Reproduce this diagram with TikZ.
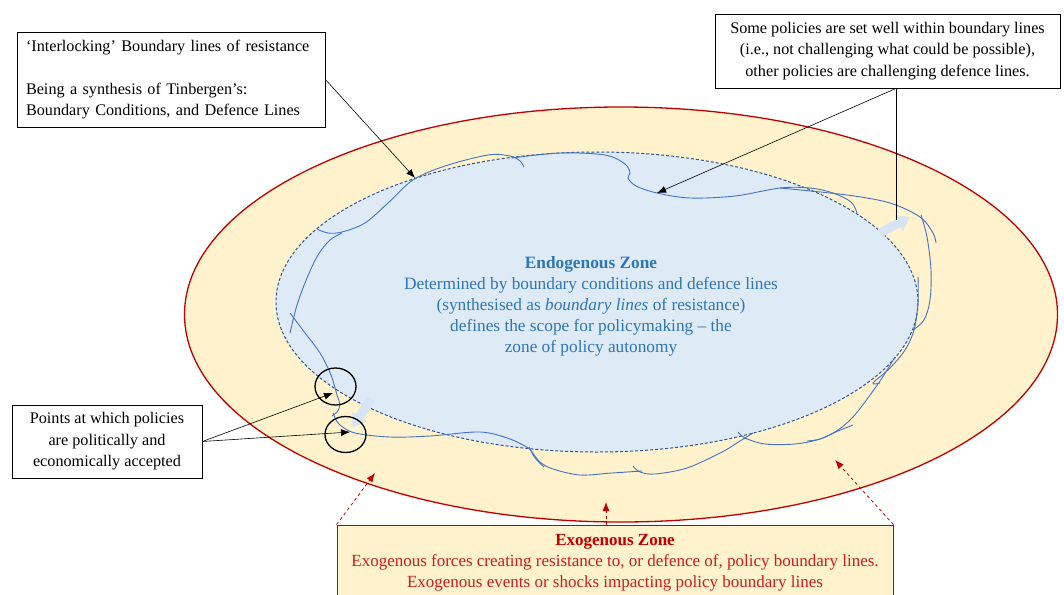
\documentclass[tikz,border=0pt]{standalone}
\usepackage{fontspec}
\setmainfont{Liberation Serif}
\usetikzlibrary{arrows.meta, shapes.geometric}

\definecolor{exofill}{HTML}{FFF2CC}
\definecolor{exored}{HTML}{C00000}
\definecolor{exotext}{HTML}{C81E1E}
\definecolor{endofill}{HTML}{DEEBF7}
\definecolor{endoedge}{HTML}{2F5597}
\definecolor{endotext}{HTML}{2E75B6}
\definecolor{bndline}{HTML}{4472C4}
\definecolor{blockarr}{HTML}{D6E4F3}

\begin{document}
\begin{tikzpicture}[x=1pt, y=-1pt,
    note/.style={draw, line width=0.8pt, inner sep=0pt, font=\fontsize{16.2}{21.5}\selectfont},
    pointer/.style={line width=0.6pt, -{Latex[length=9pt,width=7pt]}},
    exoarrow/.style={exored, line width=0.8pt, dashed, -{Latex[length=9pt,width=7pt]}},
    boundary/.style={bndline, line width=0.9pt},
    accept/.style={draw, ellipse, line width=1.3pt, inner sep=0pt, minimum width=41pt, minimum height=37pt}]

\clip (0,0) rectangle (1064,594);

% Exogenous zone (outer ellipse)
\node[ellipse, draw=exored, line width=1.3pt, fill=exofill, inner sep=0pt,
      minimum width=873pt, minimum height=415pt] (exo) at (621,314.5) {};

% Endogenous zone (inner ellipse)
\node[ellipse, draw=endoedge, dash pattern=on 3pt off 2pt, line width=1pt, fill=endofill,
      inner sep=0pt, minimum width=642pt, minimum height=300pt] (endo) at (597,302) {};

% Block arrows pushing on the boundary
\fill[blockarr, shift={(371,399)}, rotate=-123]
    (0,-4.5) -- (21,-4.5) -- (21,-9) -- (34,0) -- (21,9) -- (21,4.5) -- (0,4.5) -- cycle;
\fill[blockarr, shift={(880,233)}, rotate=28]
    (0,-4.5) -- (21,-4.5) -- (21,-9) -- (34,0) -- (21,9) -- (21,4.5) -- (0,4.5) -- cycle;

% Interlocking boundary lines of resistance
\draw[boundary] plot[smooth, tension=0.55] coordinates {(290,333) (297,305) (307,278) (318,255) (330,240) (342,233)};
\draw[boundary] plot[smooth, tension=0.55] coordinates {(317,229) (328,233) (342,232) (365,223) (388,203) (413,180) (445,166) (488,155) (510,156) (520,161) (524,167)};
\draw[boundary] plot[smooth, tension=0.55] coordinates {(512,158) (560,153) (605,155) (625,164) (630,173) (628,178) (636,186) (657,193) (690,198) (735,196) (780,188) (810,188) (833,193) (851,202) (857,213)};
\draw[boundary] plot[smooth, tension=0.55] coordinates {(780,188) (847,195) (890,203) (920,217) (933,233) (936,243)};
\draw[boundary] plot[smooth, tension=0.55] coordinates {(921,215) (927,237) (931,270) (930,300) (924,320) (913,330)};
\draw[boundary] plot[smooth, tension=0.55] coordinates {(918,277) (918,303) (914,330) (905,350) (890,368) (873,383) (880,383)};
\draw[boundary] plot[smooth, tension=0.55] coordinates {(895,357) (882,378) (865,402) (852,418) (838,430) (820,439) (795,444) (765,444) (745,438) (738,432)};
\draw[boundary] plot[smooth, tension=0.55] coordinates {(853,425) (838,431) (820,439) (807,441)};
\draw[boundary] plot[smooth, tension=0.55] coordinates {(753,433) (740,441) (722,452) (687,468) (655,474) (640,472) (633,466)};
\draw[boundary] plot[smooth, tension=0.55] coordinates {(642,471) (612,473) (580,475) (553,469) (540,462) (530,449)};
\draw[boundary] plot[smooth, tension=0.55] coordinates {(529,447) (535,458) (544,467)};
\draw[boundary] plot[smooth, tension=0.55] coordinates {(333,413) (339,424) (355,433) (390,437) (430,436) (480,432) (510,439) (530,449)};
\draw[boundary] plot[smooth, tension=0.55] coordinates {(290,313) (305,333) (320,353) (331,375) (337,395) (340,405) (337,412) (332,416)};

% Zone texts
\node[font=\fontsize{17.3}{21}\selectfont, text=endotext, align=center] (endotxt) at (591,306)
    {\textbf{Endogenous Zone}\\Determined by boundary conditions and defence lines\\
     (synthesised as \textit{boundary lines} of resistance)\\
     defines the scope for policymaking -- the\\zone of policy autonomy};

\node[note, draw=exored, fill=exofill, text=exotext, minimum width=556pt, minimum height=75pt,
      align=center, font=\fontsize{17}{21}\selectfont] (exobox) at (615,562.5)
    {\textbf{\color{exored}Exogenous Zone}\\
     Exogenous forces creating resistance to, or defence of, policy boundary lines.\\
     Exogenous events or shocks impacting policy boundary lines};

% Callout boxes
\node[note, minimum width=308pt, minimum height=95pt, text width=290pt, align=left] (interlock) at (171,79.5)
    {‘Interlocking’ Boundary lines of resistance\\[21.5pt]
     Being a synthesis of Tinbergen’s:\\Boundary Conditions, and Defence Lines};

\node[note, minimum width=345pt, minimum height=74pt, align=center] (policies) at (887.5,51)
    {Some policies are set well within boundary lines\\
     (i.e., not challenging what could be possible),\\
     other policies are challenging defence lines.};

\node[note, minimum width=190pt, minimum height=73pt, align=center] (points) at (107,441.5)
    {Points at which policies\\are politically and\\economically accepted};

% Acceptance points
\node[accept] (acc1) at (335.5,386.5) {};
\node[accept, minimum height=36pt] (acc2) at (345.5,434.5) {};

% Pointer ends
\coordinate (tipA) at (415,178);
\coordinate (tipB) at (657,193);
\coordinate (tipC) at (896,220);
\coordinate (tipD) at (333,393);
\coordinate (tipE) at (350,432);

\draw[pointer] (interlock.east) -- (tipA);
\draw[line width=0.6pt] (policies.south -| tipC) -- (tipC);
\draw[pointer] (policies.south -| tipC) -- (tipB);
\draw[pointer] (points.east) -- (tipD);
\draw[pointer] (points.east) -- (tipE);

% Exogenous pressure arrows
\coordinate (exoA) at (375,473);
\coordinate (exoB) at (606,502);
\coordinate (exoC) at (835,460);
\draw[exoarrow] (exobox.north west) -- (exoA);
\draw[exoarrow] (exobox.north -| exoB) -- (exoB);
\draw[exoarrow] (exobox.north east) -- (exoC);
\end{tikzpicture}
\end{document}
